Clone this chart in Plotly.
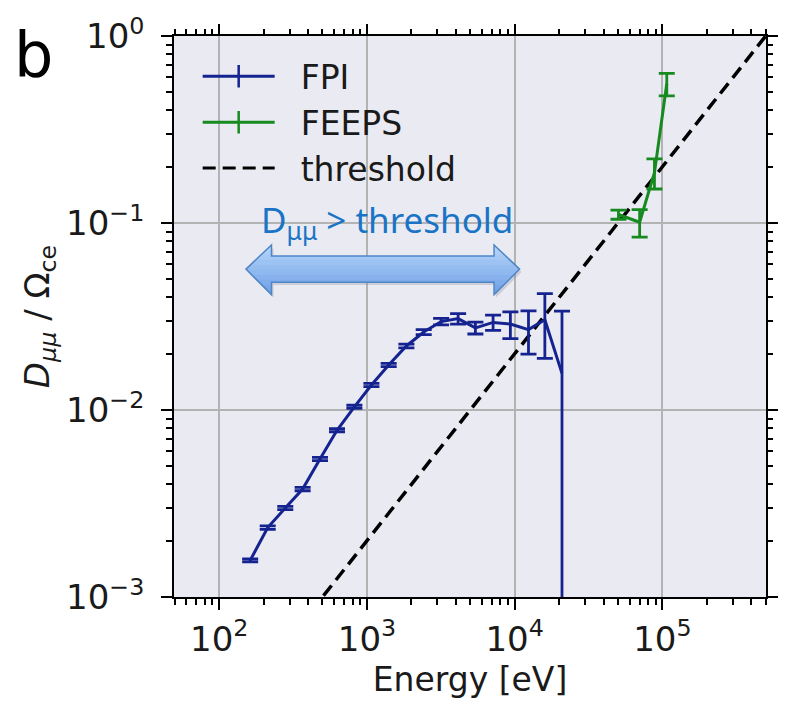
import plotly.graph_objects as go

# ---------------- data ----------------
fpi_energy = [162, 213, 280, 367, 481, 627, 822, 1072, 1403, 1849, 2422, 3177,
              4139, 5420, 7140, 9350, 12400, 16000, 20900]
fpi_d = [1.57e-3, 2.35e-3, 2.99e-3, 3.78e-3, 5.47e-3, 7.79e-3, 1.04e-2, 1.36e-2,
         1.74e-2, 2.20e-2, 2.61e-2, 2.97e-2, 3.08e-2, 2.75e-2, 2.94e-2, 2.88e-2,
         2.69e-2, 3.04e-2, 1.57e-2]
fpi_err = [0.03e-3, 0.05e-3, 0.06e-3, 0.08e-3, 0.11e-3, 0.15e-3, 0.2e-3, 0.27e-3,
           0.35e-3, 0.5e-3, 0.8e-3, 1.2e-3, 2.0e-3, 2.0e-3, 2.75e-3, 4.7e-3,
           7.0e-3, 11.5e-3, 18.1e-3]

feeps_energy = [50400, 70100, 88300, 107000]
feeps_d = [0.111, 0.101, 0.186, 0.555]
feeps_err = [0.0063, 0.017, 0.034, 0.076]

threshold_energy = [50, 500000]
threshold_d = [1e-4, 1.0]

x_tick_vals = [1e2, 1e3, 1e4, 1e5]
x_tick_text = ["10<sup>2</sup>", "10<sup>3</sup>", "10<sup>4</sup>", "10<sup>5</sup>"]
y_tick_vals = [1e-3, 1e-2, 1e-1, 1e0]
y_tick_text = ["10<sup>\u22123</sup>", "10<sup>\u22122</sup>", "10<sup>\u22121</sup>",
               "10<sup>0</sup>"]
x_minor_vals = [m * 10 ** e for e in range(1, 6) for m in range(2, 10)]
y_minor_vals = [m * 10.0 ** e for e in range(-3, 0) for m in range(2, 10)]

# ---------------- style ----------------
W, H = 789, 704
ML, MR, MT, MB = 174, 12, 28, 104
PW, PH = W - ML - MR, H - MT - MB
NAVY = "#14238f"
GREEN = "#178a1f"
FONT = "DejaVu Sans"
DASH = "13px,7px"


def px2paper(x, y):
    return (x - ML) / PW, (H - MB - y) / PH


fig = go.Figure()

fig.add_trace(go.Scatter(
    x=threshold_energy, y=threshold_d, mode="lines",
    line=dict(color="black", width=3.5, dash=DASH),
    showlegend=False, hoverinfo="skip"))

fig.add_trace(go.Scatter(
    x=fpi_energy, y=fpi_d, mode="lines",
    line=dict(color=NAVY, width=3),
    error_y=dict(type="data", array=fpi_err, color=NAVY, thickness=2.8, width=8),
    showlegend=False))

fig.add_trace(go.Scatter(
    x=feeps_energy, y=feeps_d, mode="lines",
    line=dict(color=GREEN, width=3),
    error_y=dict(type="data", array=feeps_err, color=GREEN, thickness=2.8, width=8),
    showlegend=False))

# legend entries
for name, col, dash, sym in [("FPI", NAVY, "solid", "line-ns"),
                             ("FEEPS", GREEN, "solid", "line-ns"),
                             ("threshold", "black", DASH, None)]:
    fig.add_trace(go.Scatter(
        x=[None], y=[None], name="  " + name, legendgroup=name,
        mode="lines+markers" if sym else "lines",
        line=dict(color=col, width=3, dash=dash),
        marker=dict(symbol=sym or "circle", size=30,
                    line=dict(color=col, width=2.5), color=col)))

# invisible traces for the top / right tick axes
fig.add_trace(go.Scatter(x=[None], y=[None], xaxis="x2", yaxis="y",
                         showlegend=False, hoverinfo="skip"))
fig.add_trace(go.Scatter(x=[None], y=[None], xaxis="x", yaxis="y2",
                         showlegend=False, hoverinfo="skip"))

# ---------------- arrow (gradient by bands) ----------------
arrow_px = [(247.3, 265.7), (273.3, 241.0), (273.3, 252.3), (500.0, 252.3),
            (500.0, 241.0), (526.0, 265.7), (500.0, 291.7), (500.0, 279.0),
            (273.3, 279.0), (273.3, 291.7)]


def clip_band(poly, ya, yb):
    def clip(pts, inside, inter):
        out = []
        n = len(pts)
        for i in range(n):
            cur, prev = pts[i], pts[i - 1]
            if inside(cur):
                if not inside(prev):
                    out.append(inter(prev, cur))
                out.append(cur)
            elif inside(prev):
                out.append(inter(prev, cur))
        return out

    def mk(yl):
        def f(p, q):
            t = (yl - p[1]) / (q[1] - p[1])
            return (p[0] + t * (q[0] - p[0]), yl)
        return f
    pts = clip(poly, lambda p: p[1] >= ya, mk(ya))
    if pts:
        pts = clip(pts, lambda p: p[1] <= yb, mk(yb))
    return pts


def lerp_col(c1, c2, t):
    a = [int(c1[i:i + 2], 16) for i in (1, 3, 5)]
    b = [int(c2[i:i + 2], 16) for i in (1, 3, 5)]
    return "#" + "".join(f"{round(a[i] + (b[i] - a[i]) * t):02x}" for i in range(3))


def path_of(pts):
    s = ""
    for i, (x, y) in enumerate(pts):
        xp, yp = px2paper(x, y)
        s += ("M" if i == 0 else "L") + f"{xp:.5f},{yp:.5f}"
    return s + "Z"


shadow = [(x + 2, y + 3) for x, y in arrow_px]
fig.add_shape(type="path", xref="paper", yref="paper", path=path_of(shadow),
              fillcolor="rgba(120,120,140,0.25)", line=dict(width=0), layer="above")

ytop, ybot = 241.0, 291.7
nb = 10
for k in range(nb):
    ya = ytop + (ybot - ytop) * k / nb
    yb = ytop + (ybot - ytop) * (k + 1) / nb + 0.4
    pts = clip_band(arrow_px, ya, yb)
    if len(pts) >= 3:
        fig.add_shape(type="path", xref="paper", yref="paper", path=path_of(pts),
                      fillcolor=lerp_col("#b8d6f9", "#6c9fe6", (k + 0.5) / nb),
                      line=dict(width=0), layer="above")
fig.add_shape(type="path", xref="paper", yref="paper", path=path_of(arrow_px),
              fillcolor="rgba(0,0,0,0)", line=dict(color="#4f86c6", width=1.5),
              layer="above")

ax_, ay_ = px2paper(391, 189)
fig.add_annotation(xref="paper", yref="paper", x=ax_, y=ay_, showarrow=False,
                   text="D<sub>μμ</sub> > threshold",
                   font=dict(family="Noto Sans", size=35, color="#1a74c6"))

bx, by = px2paper(9, 8)
fig.add_annotation(xref="paper", yref="paper", x=bx, y=by, xanchor="left",
                   yanchor="top", showarrow=False, text="b",
                   font=dict(family=FONT, size=62, color="black"))

def tick_common(minor_vals):
    return dict(
        type="log", ticks="outside", ticklen=11, tickwidth=2, tickcolor="black",
        minor=dict(ticks="outside", ticklen=6, tickwidth=1.5, tickcolor="black",
                   showgrid=False, tickmode="array", tickvals=minor_vals),
    )


axis_extra = dict(
    showgrid=True, gridcolor="#b3b3b3", gridwidth=1.5,
    showline=True, linecolor="black", linewidth=1.5, mirror=True,
    zeroline=False, tickfont=dict(family=FONT, size=34, color="#1a1a1a"),
)
twin_extra = dict(showgrid=False, showticklabels=False, showline=False,
                  zeroline=False)

fig.update_layout(
    width=W, height=H,
    margin=dict(l=ML, r=MR, t=MT, b=MB),
    paper_bgcolor="white", plot_bgcolor="#eaeaf2",
    font=dict(family=FONT, color="#1a1a1a"),
    xaxis=dict(tick_common(x_minor_vals), **axis_extra, range=[1.694, 5.701],
               tickvals=x_tick_vals, ticktext=x_tick_text,
               title=dict(text="Energy [eV]", font=dict(family=FONT, size=33),
                          standoff=10)),
    yaxis=dict(tick_common(y_minor_vals), **axis_extra, range=[-3, 0],
               tickvals=y_tick_vals, ticktext=y_tick_text, ticklabelstandoff=10,
               title=dict(text="<i>D</i><sub><i>μμ</i></sub> / Ω<sub>ce</sub>",
                          font=dict(family=FONT, size=34), standoff=6)),
    xaxis2=dict(tick_common(x_minor_vals), **twin_extra, overlaying="x",
                side="top", anchor="y", range=[1.694, 5.701],
                tickvals=x_tick_vals),
    yaxis2=dict(tick_common(y_minor_vals), **twin_extra, overlaying="y",
                side="right", anchor="x", range=[-3, 0], tickvals=y_tick_vals),
    legend=dict(x=0.04, y=0.978, xanchor="left", yanchor="top",
                bgcolor="rgba(0,0,0,0)", borderwidth=0,
                font=dict(family=FONT, size=33, color="#1a1a1a"),
                itemwidth=72, tracegroupgap=0),
    showlegend=True,
)

fig.write_html("out.html")
